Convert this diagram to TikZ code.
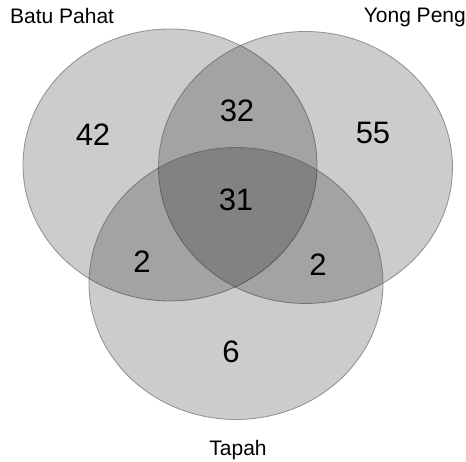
\documentclass[tikz,border=0pt]{standalone}
\usepackage{fontspec}
\setmainfont{Liberation Sans}
\usetikzlibrary{shapes.geometric}
\usetikzlibrary{positioning}
\tikzset{
    setnode/.style = {ellipse, draw=black!70, draw opacity=0.55, line width=0.8pt, fill=black, fill opacity=0.2, minimum width=294pt, minimum height=272pt, inner sep=0pt},
    countnode/.style = {font=\fontsize{31}{31}\selectfont},
    namenode/.style = {font=\fontsize{21}{21}\selectfont, inner sep=0pt},
}
\begin{document}
\begin{tikzpicture}[x=1pt,y=1pt]
  \useasboundingbox (0,0) rectangle (466,462);
  % the three sets
  \node[setnode] (bp) at (170,297) {};
  \node[setnode] (yp) at (305.5,294.5) {};
  \node[setnode] (tp) at (236,178.5) {};
  % set names
  \node[namenode, anchor=west] (bpname) at (10,446) {Batu Pahat};
  \node[namenode, anchor=east] (ypname) at (466,445) {Yong Peng};
  \node[namenode] (tpname) at (238,12) {Tapah};
  % counts
  \node[countnode] (nbp) at (93,327) {42};
  \node[countnode] (nyp) at (373,329) {55};
  \node[countnode] (ntp) at (231,110) {6};
  \node[countnode] (nbpyp) at (237,351) {32};
  \node[countnode] (nbptp) at (142,200) {2};
  \node[countnode] (nyptp) at (318,197) {2};
  \node[countnode] (nall) at (236,262) {31};
\end{tikzpicture}
\end{document}
